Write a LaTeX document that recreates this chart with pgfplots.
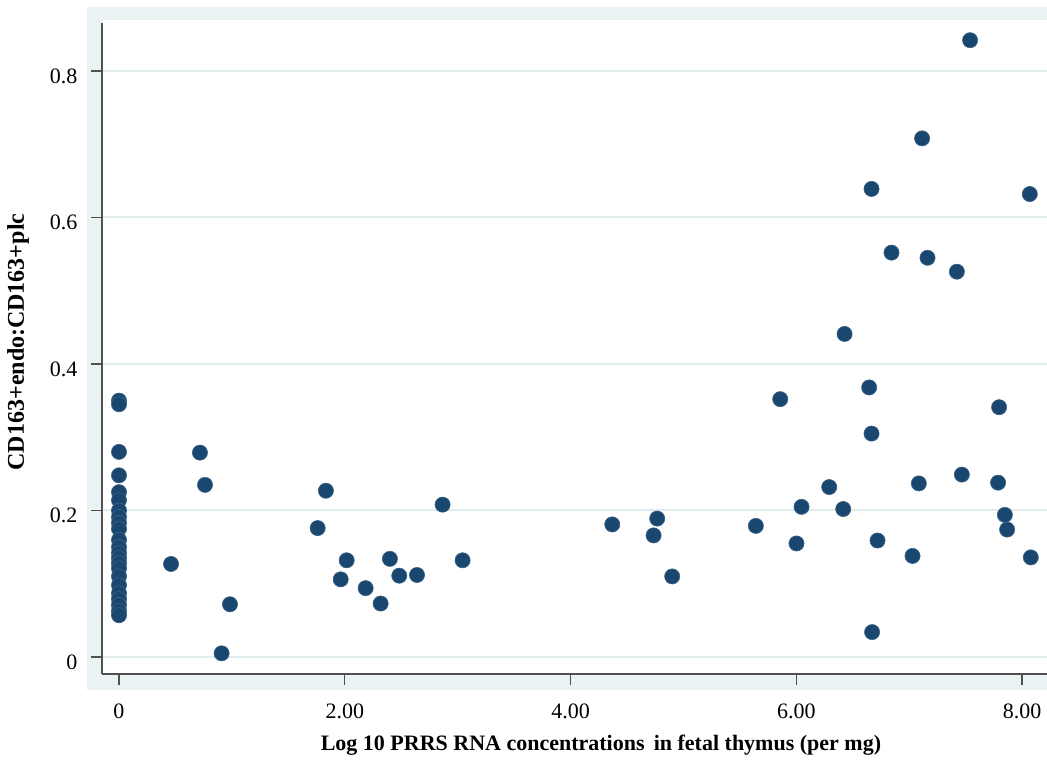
\documentclass[border=0pt]{standalone}
\usepackage{fontspec}
\setmainfont{Liberation Serif}
\usepackage{pgfplots}
\pgfplotsset{compat=1.18}
\definecolor{bgc}{RGB}{234,242,243}
\definecolor{gridc}{RGB}{226,236,238}
\definecolor{navy}{RGB}{26,71,111}
\definecolor{axc}{RGB}{80,80,80}
\begin{document}
\begin{tikzpicture}[x=1pt,y=1pt]
\useasboundingbox (0,0) rectangle (1047,763);
\fill[bgc] (87,73) rectangle (1047,756);
\fill[white] (103,89) rectangle (1047,743);
\begin{axis}[
  at={(102pt,89pt)}, anchor=south west,
  scale only axis, width=945pt, height=651pt,
  xmin=-0.1506, xmax=8.2215,
  ymin=-0.0232, ymax=0.8655,
  axis lines*=left,
  axis line style={axc, line width=1.6pt},
  tick style={axc, line width=1.4pt},
  tick align=outside,
  major tick length=11pt,
  xtick={0,2,4,6,8},
  xticklabels={0,2.00,4.00,6.00,8.00},
  ytick={0,0.2,0.4,0.6,0.8},
  yticklabels={0,0.2,0.4,0.6,0.8},
  ymajorgrids,
  grid style={gridc, line width=2pt},
  every tick label/.append style={font=\fontsize{22}{26}\selectfont, black},
  xticklabel style={yshift=-15pt},
  yticklabel style={xshift=-10pt, yshift=-5pt},
  xlabel={\textbf{Log 10 PRRS RNA concentrations \,in fetal thymus (per mg)}},
  ylabel={\textbf{CD163+endo:CD163+plc}},
  xlabel style={at={(axis description cs:0.528,-0.1090)}, anchor=center, font=\fontsize{22}{26}\selectfont},
  ylabel style={at={(axis description cs:-0.0889,0.51)}, anchor=center, font=\fontsize{24}{26}\selectfont},
  clip=false,
]
\addplot[only marks, mark=*, mark size=7.6pt, mark options={fill=navy, draw=navy!85!white, line width=0.6pt}] coordinates {
(0,0.350) (0,0.345) (0,0.280) (0,0.248) (0,0.225) (0,0.214) (0,0.200)
(0,0.191) (0,0.183) (0,0.175) (0,0.160) (0,0.150) (0,0.142) (0,0.135)
(0,0.128) (0,0.121) (0,0.110) (0,0.098) (0,0.087) (0,0.079) (0,0.071)
(0,0.063) (0,0.057)
(0.461,0.127) (0.717,0.279) (0.762,0.235) (0.983,0.072) (0.909,0.005)
(1.833,0.227) (1.760,0.176) (2.017,0.132) (1.964,0.106) (2.185,0.094)
(2.318,0.073) (2.400,0.134) (2.483,0.111) (2.640,0.112) (2.867,0.208)
(3.044,0.132) (4.370,0.181) (4.768,0.189) (4.736,0.166) (4.901,0.110)
(7.540,0.842) (7.115,0.708) (6.667,0.639) (8.069,0.632) (6.844,0.552)
(7.163,0.545) (7.423,0.526) (6.428,0.441)
(5.858,0.352) (6.646,0.368) (7.797,0.341) (6.667,0.305) (6.292,0.232)
(6.047,0.205) (6.416,0.202) (5.642,0.179) (6.002,0.155) (6.720,0.159)
(7.030,0.138) (7.086,0.237) (7.467,0.249) (7.788,0.238) (7.848,0.194)
(7.868,0.174) (8.078,0.136) (6.672,0.034)
};
\end{axis}
\end{tikzpicture}
\end{document}
